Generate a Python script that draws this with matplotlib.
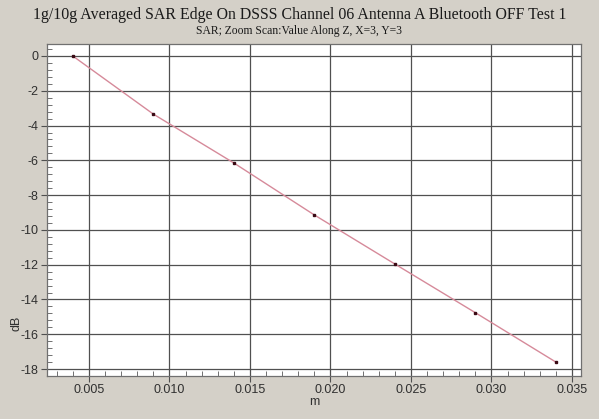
import numpy as np
import matplotlib
matplotlib.use("Agg")
import matplotlib.pyplot as plt
from matplotlib.ticker import MultipleLocator, FormatStrFormatter

plt.rcParams["axes.unicode_minus"] = False

# distance along Z (m) and averaged SAR (dB)
z_m = [0.004, 0.009, 0.014, 0.019, 0.024, 0.029, 0.034]
sar_db = [0.0, -3.34, -6.15, -9.14, -11.96, -14.76, -17.6]

title = "1g/10g Averaged SAR Edge On DSSS Channel 06 Antenna A Bluetooth OFF Test 1"
subtitle = "SAR; Zoom Scan:Value Along Z, X=3, Y=3"

bg = "#d4d0c8"
grid_col = "#505050"

fig = plt.figure(figsize=(5.99, 4.19), dpi=100, facecolor=bg)
ax = fig.add_axes([0.0785, 0.1026, 0.8915, 0.7924])
ax.set_facecolor("white")

ax.plot(z_m, sar_db, color="#d68a9a", linewidth=1.0, zorder=3)
ax.plot(z_m, sar_db, linestyle="none", marker="s", markersize=1.8,
        color="#3a0a14", zorder=4)

ax.set_xlim(0.0024, 0.03556)
ax.set_ylim(-18.4, 0.69)

ax.xaxis.set_major_locator(MultipleLocator(0.005))
ax.xaxis.set_minor_locator(MultipleLocator(0.001))
ax.xaxis.set_major_formatter(FormatStrFormatter("%.3f"))
ax.yaxis.set_major_locator(MultipleLocator(2))
ax.yaxis.set_minor_locator(MultipleLocator(0.4))

ax.grid(True, which="major", color=grid_col, linewidth=0.9)
ax.tick_params(which="major", direction="out", length=4, width=0.8,
               color=grid_col, labelsize=9, labelcolor="#303030", pad=2)
ax.tick_params(which="minor", direction="in", length=3.5, width=0.7,
               color="#707070")
ax.tick_params(which="both", top=False, right=False)

for s in ax.spines.values():
    s.set_color("#707070")
    s.set_linewidth(0.9)

for lab in ax.get_xticklabels() + ax.get_yticklabels():
    lab.set_fontfamily("Liberation Sans")

ax.set_xlabel("m", fontsize=9, family="Liberation Sans", color="#303030", labelpad=0)
ax.set_ylabel("dB", fontsize=9, family="Liberation Sans", color="#303030")
ax.yaxis.set_label_coords(-0.045, 0.16)

fig.text(0.5, 0.965, title, ha="center", va="center", fontsize=11.4,
         family="Liberation Serif", color="#1a1a1a")
fig.text(0.5, 0.927, subtitle, ha="center", va="center", fontsize=8.4,
         family="Liberation Serif", color="#1a1a1a")

fig.savefig("out.png", dpi=100, facecolor=bg)
